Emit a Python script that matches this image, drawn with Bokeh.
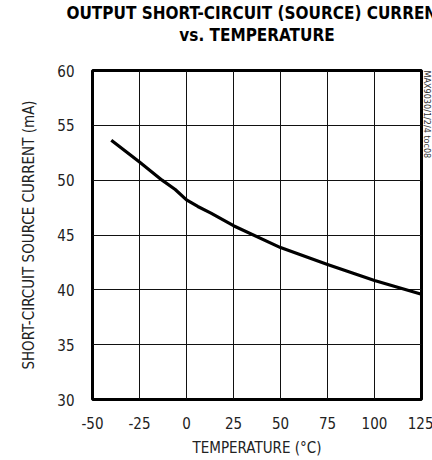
from bokeh.plotting import figure
from bokeh.models import Title, FixedTicker, Range1d
from bokeh.embed import file_html
from bokeh.resources import INLINE

temperature_c = [-40, -25, -13, -6, 0, 6, 13, 25, 50, 75, 100, 125]
source_current_ma = [53.65, 51.65, 50.0, 49.15, 48.2, 47.6, 47.0, 45.85, 43.85, 42.3, 40.85, 39.6]

x_ticks = [-50, -25, 0, 25, 50, 75, 100, 125]
x_tick_labels = {-50: "-50", -25: "-25"}
y_ticks = [30, 35, 40, 45, 50, 55, 60]

title_line1 = "OUTPUT SHORT-CIRCUIT (SOURCE) CURRENT"
title_line2 = "vs. TEMPERATURE"
x_label = "TEMPERATURE (°C)"
y_label = "SHORT-CIRCUIT SOURCE CURRENT (mA)"
watermark = "MAX9030/1/2/4 toc08"

FONT = "'DejaVu Sans Condensed', Roboto"

p = figure(frame_width=329, frame_height=329, output_backend="svg", toolbar_location=None,
           x_range=Range1d(-50, 125), y_range=Range1d(30, 60),
           min_border_left=92, min_border_right=11, min_border_bottom=63, min_border_top=0)

p.line(temperature_c, source_current_ma, line_color="black", line_width=3.2,
       line_join="round", line_cap="butt")

p.outline_line_color = "black"
p.outline_line_width = 3
p.outline_line_alpha = 1

for ax in (p.xaxis[0], p.yaxis[0]):
    ax.axis_line_color = None
    ax.major_tick_line_color = None
    ax.minor_tick_line_color = None
    ax.major_label_text_font = FONT
    ax.major_label_text_font_size = "15px"
    ax.major_label_text_color = "#222222"
    ax.axis_label_text_font = FONT
    ax.axis_label_text_font_size = "15px"
    ax.axis_label_text_font_style = "normal"
    ax.axis_label_text_color = "#222222"

p.xaxis.ticker = FixedTicker(ticks=x_ticks)
p.xaxis.major_label_overrides = x_tick_labels
p.yaxis.ticker = FixedTicker(ticks=y_ticks)
p.xaxis.axis_label = x_label
p.yaxis.axis_label = y_label
p.xaxis.major_label_standoff = 11
p.yaxis.major_label_standoff = 12
p.xaxis.axis_label_standoff = 7
p.yaxis.axis_label_standoff = 16

p.xgrid.ticker = FixedTicker(ticks=x_ticks)
p.ygrid.ticker = FixedTicker(ticks=y_ticks)
p.grid.grid_line_color = "#111111"
p.grid.grid_line_width = 1
p.grid.grid_line_alpha = 1

# blank spacer between the heading and the plot frame
p.add_layout(Title(text=" ", align="center", text_font=FONT,
                   text_font_size="20px", standoff=0), "above")
p.add_layout(Title(text=title_line2, align="center", text_font=FONT,
                   text_font_size="17px", text_font_style="bold", text_color="black",
                   standoff=0), "above")
p.add_layout(Title(text=title_line1, align="center", text_font=FONT,
                   text_font_size="17px", text_font_style="bold", text_color="black",
                   standoff=0), "above")

p.add_layout(Title(text=watermark, align="left", text_font=FONT,
                   text_font_size="9px", text_font_style="normal", text_color="#333333",
                   standoff=0, offset=0), "right")

open("out.html", "w").write(file_html(p, INLINE))
